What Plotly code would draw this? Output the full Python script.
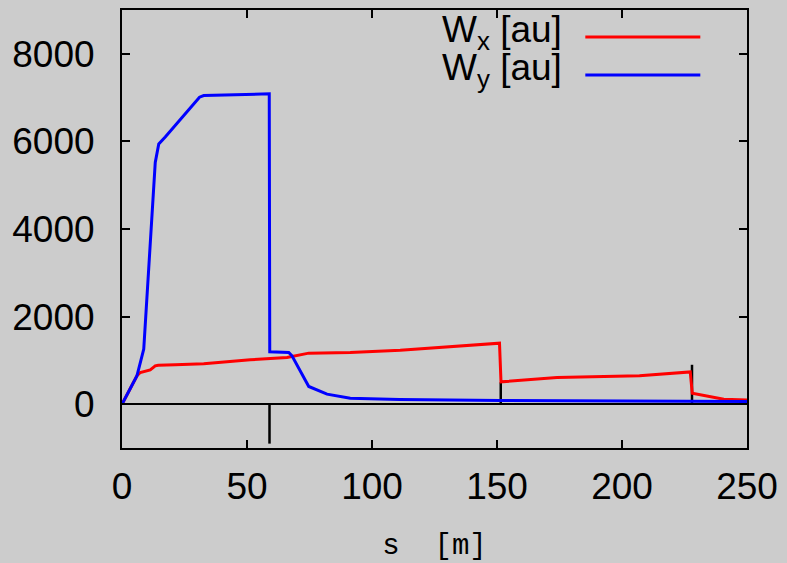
import plotly.graph_objects as go

# Horizontal beam size along the line
s_wx = [0, 6, 7.3, 9.5, 11.3, 13.3, 14.5, 21.3, 32.7, 51.3, 66.0, 74.7, 91.3, 111.3,
        130, 151.0, 151.6, 163.3, 174, 207, 227.3, 228.1, 240.7, 250]
wx = [0, 650, 724, 760, 784, 876, 890, 898, 921, 1013, 1067, 1166, 1181, 1234,
      1310, 1394, 510, 557, 610, 647, 738, 251, 114, 98]

# Vertical beam size along the line
s_wy = [0, 6, 8.7, 10.7, 13.3, 14.7, 17.3, 31.0, 32.7, 58.9, 59.1, 66.7, 68.0,
        74.7, 82.0, 91.3, 111.0, 151, 200, 250]
wy = [0, 650, 1257, 3086, 5520, 5943, 6100, 7010, 7047, 7086, 1196, 1181, 1104,
      405, 229, 137, 107, 85, 70, 60]

# Lattice element markers (position, marker height)
elem_s = [59.0, 151.5, 228.0]
elem_h = [-900, 500, 900]

x_ticks = [0, 50, 100, 150, 200, 250]
y_ticks = [0, 2000, 4000, 6000, 8000]

legend_labels = ["W<sub>x</sub> [au]", "W<sub>y</sub> [au]"]
colors = ["#ff0000", "#0000ff"]

mx, my = [], []
for s, h in zip(elem_s, elem_h):
    mx += [s, s, None]
    my += [0, h, None]

fig = go.Figure()
fig.add_trace(go.Scatter(x=mx, y=my, mode="lines",
                         line=dict(color="black", width=2.5), showlegend=False,
                         hoverinfo="skip"))
fig.add_trace(go.Scatter(x=s_wx, y=wx, mode="lines", name=legend_labels[0],
                         line=dict(color=colors[0], width=3), showlegend=False))
fig.add_trace(go.Scatter(x=s_wy, y=wy, mode="lines", name=legend_labels[1],
                         line=dict(color=colors[1], width=3), showlegend=False))

# Key drawn at the top right: label on the left, line sample on the right
key_y = [0.9383, 0.8515]
for lab, col, yy in zip(legend_labels, colors, key_y):
    fig.add_annotation(xref="paper", yref="paper", x=0.7075, y=yy + 0.012,
                       text=lab, showarrow=False, xanchor="right", yanchor="middle",
                       font=dict(family="Liberation Sans", size=37, color="black"))
    fig.add_shape(type="line", xref="paper", yref="paper", x0=0.7413, x1=0.9253,
                  y0=yy, y1=yy, line=dict(color=col, width=3))

axis_common = dict(showline=True, linecolor="black", linewidth=2, mirror="allticks",
                   ticks="inside", ticklen=8, tickwidth=2, tickcolor="black",
                   showgrid=False, automargin=False,
                   tickfont=dict(family="Liberation Sans", size=37, color="black"))

fig.update_xaxes(range=[0, 250], tickvals=x_ticks, zeroline=False,
                 ticklabelstandoff=5,
                 title=dict(text="s\u00a0\u00a0[m]", standoff=45,
                            font=dict(family="Liberation Mono", size=29, color="black")),
                 **axis_common)
fig.update_yaxes(range=[-1000, 9000], tickvals=y_ticks, zeroline=True,
                 zerolinecolor="black", zerolinewidth=2, ticklabelstandoff=18,
                 **axis_common)

fig.update_layout(width=787, height=563, paper_bgcolor="#cccccc",
                  plot_bgcolor="#cccccc",
                  margin=dict(l=122, r=40, t=10, b=115), showlegend=False)

fig.write_html("out.html")
